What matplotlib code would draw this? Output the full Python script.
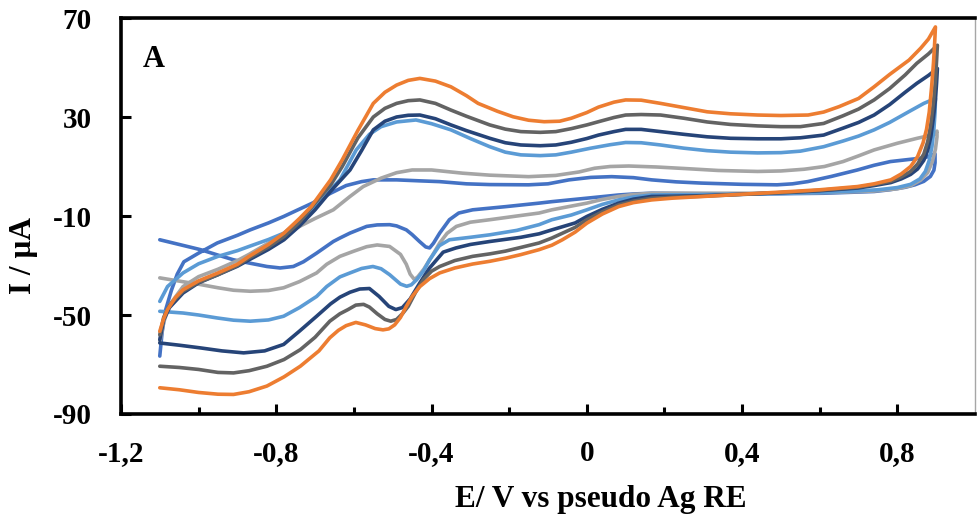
import matplotlib
matplotlib.use("Agg")
import matplotlib.pyplot as plt
from matplotlib.ticker import FixedLocator

plt.rcParams["font.family"] = ["Liberation Serif", "DejaVu Serif"]
plt.rcParams["font.weight"] = "bold"

# Cyclic voltammograms, potential (V) and current (uA): forward scan then reverse scan
blue_E = [-1.10, -1.094, -1.085, -1.07, -1.055, -1.038, -1.00, -0.952, -0.90, -0.867, -0.82, -0.781, -0.74,
          -0.707, -0.66, -0.62, -0.58, -0.55, -0.49, -0.43, -0.38, -0.31, -0.25, -0.15, -0.10, -0.046, 0.01,
          0.064, 0.12, 0.167, 0.23, 0.295, 0.40, 0.49, 0.53, 0.569, 0.63, 0.697, 0.74, 0.782, 0.833, 0.87, 0.897,
          0.897, 0.894, 0.885, 0.868, 0.845, 0.82, 0.78, 0.74, 0.61, 0.44, 0.30, 0.167, 0.12, 0.082, 0.00, -0.09,
          -0.123, -0.208, -0.294, -0.33, -0.354, -0.379, -0.395, -0.405, -0.415, -0.431, -0.45, -0.465, -0.49,
          -0.508, -0.54, -0.567, -0.61, -0.636, -0.653, -0.696, -0.73, -0.756, -0.79, -0.824, -0.87, -0.91, -0.95,
          -0.995, -1.05, -1.10]
blue_I = [-66.6, -57, -48, -40, -33.5, -28.5, -25, -20.9, -17.8, -15.6, -12.8, -10.2, -7.2,
          -4.8, -0.8, 2.3, 3.9, 4.6, 4.6, 4.2, 3.9, 3.0, 2.7, 2.6, 3.0, 4.6, 5.6,
          5.9, 5.5, 4.6, 3.8, 3.3, 2.8, 2.6, 3.0, 3.9, 6.0, 8.6, 10.5, 12.0, 12.9, 13.5, 15.1,
          11.5, 8.5, 6.0, 4.0, 2.6, 1.6, 0.6, -0.1, -0.8, -1.1, -1.0, -0.8, -1.1, -1.5, -2.8, -4.2,
          -4.8, -6.2, -7.5, -8.8, -11.5, -16.9, -21, -22.9, -22.5, -20.3, -17.5, -15.6, -14,
          -13.5, -13.6, -14.2, -16.9, -18.9, -20.3, -25, -28.5, -30.4, -31, -30.4, -29, -27.7, -25.8,
          -23.6, -21.5, -19.6]

lgray_E = [-1.10, -1.09, -1.075, -1.04, -1.00, -0.95, -0.90, -0.87, -0.82, -0.78, -0.74, -0.70, -0.653,
           -0.61, -0.576, -0.53, -0.49, -0.45, -0.40, -0.32, -0.25, -0.15, -0.08, -0.02, 0.02, 0.06, 0.108,
           0.18, 0.25, 0.338, 0.44, 0.50, 0.56, 0.612, 0.66, 0.70, 0.74, 0.80, 0.851, 0.88, 0.898, 0.902,
           0.902, 0.898, 0.89, 0.878, 0.86, 0.835, 0.80, 0.74, 0.65, 0.55, 0.45, 0.30, 0.167, 0.12, 0.082, 0.04,
           0.00, -0.05, -0.09, -0.123, -0.18, -0.25, -0.30, -0.336, -0.36, -0.379, -0.40, -0.42, -0.435, -0.444,
           -0.455, -0.465, -0.48, -0.508, -0.54, -0.567, -0.60, -0.636, -0.67, -0.696, -0.74, -0.781, -0.82,
           -0.867, -0.91, -0.95, -0.995, -1.05, -1.10]
lgray_I = [-61, -53, -46, -38.5, -34.5, -31.5, -28, -25.5, -20.9, -17.6, -14.2, -11, -7.5,
           -2.1, 1.9, 5.3, 7.5, 8.6, 8.6, 7.3, 6.5, 5.9, 6.4, 7.8, 9.3, 10, 10.2,
           9.8, 9.2, 8.4, 8.0, 8.2, 8.9, 10, 12, 14.3, 16.7, 19.4, 21.4, 22.4, 23.4, 24.3,
           22, 17, 12, 7.5, 4.5, 2.3, 1.0, 0.1, -0.4, -0.7, -0.8, -0.8, -0.8, -1.3, -2.1, -3.3,
           -4.8, -6.3, -7.5, -8.8, -10, -11.5, -12.5, -14.2, -17, -20.9, -26.5, -31.5, -34.5, -35.7,
           -33.5, -29.5, -25.5, -22.3, -21.7, -22.4, -24.2, -26.3, -29.5, -33, -36.5, -39, -40.1,
           -40.4, -40, -39, -37.7, -36.3, -35]

lblue_E = [-1.10, -1.08, -1.04, -1.00, -0.95, -0.90, -0.87, -0.82, -0.78, -0.74, -0.71, -0.67, -0.636,
           -0.594, -0.56, -0.53, -0.49, -0.44, -0.40, -0.35, -0.30, -0.25, -0.21, -0.17, -0.12, -0.08, -0.04,
           0.01, 0.06, 0.10, 0.14, 0.19, 0.25, 0.31, 0.37, 0.44, 0.50, 0.55, 0.61, 0.66, 0.70, 0.74, 0.78, 0.83,
           0.868, 0.898,
           0.897, 0.894, 0.889, 0.882, 0.872, 0.858, 0.834, 0.80, 0.75, 0.68, 0.60, 0.50, 0.40, 0.30, 0.167,
           0.12, 0.082, 0.04, 0.00, -0.04, -0.09, -0.123, -0.18, -0.25, -0.30, -0.354, -0.38, -0.405, -0.42,
           -0.438, -0.452, -0.464, -0.48, -0.508, -0.53, -0.551, -0.58, -0.61, -0.636, -0.67, -0.696, -0.74,
           -0.781, -0.82, -0.867, -0.91, -0.952, -1.00, -1.04, -1.10]
lblue_I = [-44.5, -38.5, -33, -29.3, -26.3, -24, -22.3, -19.5, -16.9, -12, -7.5, -1, 4.6,
           16.7, 23, 26.1, 28, 28.8, 27.3, 24.8, 21.3, 18, 15.8, 14.7, 14.4, 14.7, 15.8,
           17.4, 18.8, 19.7, 19.6, 18.7, 17.4, 16.4, 15.8, 15.5, 15.6, 16.2, 18, 20.3, 22.3, 24.8, 27.8, 32.2,
           35.5, 37.5,
           32, 25, 18, 12.5, 8, 5, 2.8, 1.5, 0.6, 0, -0.5, -0.9, -1.2, -1.3, -1.5,
           -2.3, -3.5, -5.3, -7.5, -9.6, -11.5, -13.5, -15.8, -17.6, -18.6, -19.6, -22, -27.7, -32,
           -35.7, -37.8, -38.4, -37.5, -33.7, -31.3, -30.4, -31.2, -33, -34.6, -38.5, -42.5, -47,
           -50.5, -52, -52.5, -52.1, -51.2, -50, -49.2, -48.5]

navy_E = [-1.10, -1.09, -1.075, -1.04, -1.00, -0.95, -0.90, -0.87, -0.82, -0.78, -0.74, -0.70, -0.66,
          -0.61, -0.58, -0.55, -0.52, -0.49, -0.46, -0.43, -0.39, -0.35, -0.31, -0.25, -0.21, -0.17, -0.12,
          -0.08, -0.04, 0.00, 0.03, 0.07, 0.10, 0.14, 0.19, 0.25, 0.31, 0.37, 0.44, 0.50, 0.55, 0.61, 0.66,
          0.70, 0.74, 0.78, 0.82, 0.85, 0.88, 0.903,
          0.901, 0.898, 0.893, 0.886, 0.878, 0.868, 0.852, 0.834, 0.81, 0.783, 0.74, 0.697, 0.60, 0.53, 0.40,
          0.30, 0.22, 0.167, 0.12, 0.082, 0.04, 0.00, -0.03, -0.09, -0.123, -0.17, -0.25, -0.30, -0.337, -0.37,
          -0.405, -0.43, -0.455, -0.475, -0.492, -0.51, -0.535, -0.56, -0.585, -0.61, -0.636, -0.66, -0.696,
          -0.74, -0.781, -0.83, -0.884, -0.94, -0.995, -1.05, -1.10]
navy_I = [-60, -52, -47, -41.1, -37, -33.7, -30.3, -27.7, -23.5, -19.6, -14, -7.5, 0,
          8.6, 16.5, 24.8, 28.3, 30, 30.7, 30.8, 29.3, 26.8, 24.5, 21.4, 19.6, 18.7, 18.4,
          18.7, 19.8, 21.3, 22.7, 24.1, 25, 25, 24.1, 23, 22, 21.4, 21.2, 21.2, 21.6, 22.7, 25.5,
          27.8, 30.8, 35, 40, 43.6, 46.8, 49.6,
          44, 37, 30, 22, 16.5, 12.5, 9, 6.8, 5, 3.5, 2.3, 1.3, 0.2, -0.4, -1.2,
          -1.8, -2.0, -2.1, -3.2, -4.8, -7.3, -10.2, -12.8, -15.6, -17.2, -18.6, -20.3, -21.5, -22.9, -24.6,
          -31, -37, -43.5, -47, -47.8, -46.5, -42.5, -39.3, -39.5, -40.8, -42.8, -45.5, -50.5,
          -56.5, -61.9, -64.5, -65.3, -64.5, -63.3, -62.2, -61.3]

dgray_E = [-1.10, -1.09, -1.075, -1.04, -1.00, -0.95, -0.90, -0.87, -0.82, -0.78, -0.74, -0.70, -0.66,
           -0.63, -0.59, -0.55, -0.52, -0.49, -0.46, -0.43, -0.39, -0.35, -0.31, -0.25, -0.21, -0.17, -0.12,
           -0.08, -0.04, 0.00, 0.03, 0.07, 0.10, 0.14, 0.19, 0.25, 0.31, 0.37, 0.44, 0.50, 0.55, 0.61, 0.66,
           0.70, 0.74, 0.78, 0.82, 0.85, 0.88, 0.903,
           0.901, 0.898, 0.893, 0.886, 0.878, 0.868, 0.852, 0.834, 0.81, 0.783, 0.74, 0.697, 0.60, 0.53, 0.40,
           0.30, 0.22, 0.167, 0.12, 0.082, 0.04, 0.00, -0.03, -0.09, -0.123, -0.17, -0.21, -0.25, -0.294, -0.34,
           -0.379, -0.40, -0.42, -0.44, -0.46, -0.475, -0.49, -0.505, -0.52, -0.54, -0.56, -0.575, -0.595,
           -0.615, -0.636, -0.662, -0.70, -0.738, -0.78, -0.824, -0.87, -0.91, -0.95, -1.00, -1.05, -1.10]
dgray_I = [-58, -51, -46, -40.4, -36.8, -33.7, -30, -27, -22.5, -18.3, -12.5, -4.8, 2.5,
           10, 21.5, 30, 33.5, 35.5, 36.6, 36.9, 35.5, 32.8, 30.3, 26.8, 25.1, 24.1, 23.8,
           24.1, 25.3, 26.8, 28.1, 29.8, 30.8, 31, 30.8, 29.5, 28, 27, 26.4, 26.1, 26.1, 27.4, 30.5,
           33.2, 36.9, 41.5, 47, 51.7, 55.5, 59,
           53, 45, 36, 27, 20, 15, 11, 8, 5.8, 4, 2.7, 1.6, 0.4, -0.3, -1.3,
           -2.0, -2.4, -2.8, -4.0, -5.5, -8.3, -11.5, -14.6, -18.9, -20.9, -22.7, -24.2, -25.3, -26.3, -28,
           -30.4, -32.3, -35.5, -40.5, -46.5, -49.5, -51.8, -52.5, -51.8, -49.5, -46.8, -45.7, -46,
           -47.8, -49.5, -52.5, -59, -64, -68, -70.7, -72.5, -73.4, -73.2, -72, -71.2, -70.7]

orange_E = [-1.10, -1.09, -1.08, -1.06, -1.04, -1.00, -0.95, -0.90, -0.87, -0.82, -0.78, -0.74, -0.71,
            -0.66, -0.63, -0.59, -0.55, -0.52, -0.49, -0.46, -0.43, -0.39, -0.35, -0.31, -0.28, -0.23, -0.19,
            -0.15, -0.11, -0.07, -0.04, 0.00, 0.03, 0.07, 0.10, 0.14, 0.19, 0.25, 0.31, 0.37, 0.44, 0.50, 0.57,
            0.61, 0.65, 0.70, 0.74, 0.78, 0.83, 0.86, 0.88, 0.898,
            0.896, 0.893, 0.888, 0.882, 0.875, 0.866, 0.852, 0.834, 0.81, 0.783, 0.74, 0.697, 0.60, 0.526, 0.40,
            0.30, 0.22, 0.167, 0.12, 0.082, 0.04, 0.00, -0.03, -0.063, -0.09, -0.123, -0.17, -0.208, -0.25,
            -0.294, -0.34, -0.379, -0.405, -0.43, -0.45, -0.465, -0.48, -0.495, -0.51, -0.525, -0.545, -0.57,
            -0.595, -0.62, -0.64, -0.662, -0.69, -0.738, -0.78, -0.824, -0.87, -0.91, -0.95, -1.00, -1.05, -1.10]
orange_I = [-56.6, -51.5, -47.8, -43, -39.8, -36.2, -33, -29.5, -26.3, -21.5, -16.9, -11, -6.2,
            4.6, 12.7, 24.5, 35.5, 40, 42.9, 44.8, 45.6, 44.5, 42.2, 38.6, 35.5, 32.3, 30.1,
            28.7, 28.1, 28.3, 29.5, 31.8, 34.0, 36.0, 36.9, 36.8, 35.5, 33.8, 32.1, 31.3, 30.8, 30.6, 30.8,
            32, 34.2, 37.5, 42.2, 47.2, 53, 57.8, 61.5, 66.4,
            60, 52, 42, 32, 25, 19.5, 14, 10, 7, 4.6, 3, 1.9, 0.6, -0.1, -1.2,
            -2.1, -2.8, -3.5, -4.6, -6.2, -9.2, -12.9, -16.5, -19.6, -21.8, -23.6, -25.6, -27, -28.3,
            -29.4, -31, -33, -35.3, -38.5, -42.5, -46.5, -51, -54, -55.6, -56, -55.5, -54,
            -53, -54.3, -56.2, -59.2, -64.5, -70.7, -75, -78.7, -81, -82.1, -82, -81.3, -80.2, -79.4]

x_ticks = [-1.2, -0.8, -0.4, 0.0, 0.4, 0.8]
x_minor = [-1.0, -0.6, -0.2, 0.2, 0.6]
x_labels = ["-1,2", "-0,8", "-0,4", "0", "0,4", "0,8"]
y_ticks = [-90, -50, -10, 30, 70]
y_labels = ["-90", "-50", "-10", "30", "70"]

series = [
    (blue_E, blue_I, "#4472C4"),
    (lgray_E, lgray_I, "#A5A5A5"),
    (lblue_E, lblue_I, "#5B9BD5"),
    (navy_E, navy_I, "#264478"),
    (dgray_E, dgray_I, "#636363"),
    (orange_E, orange_I, "#ED7D31"),
]

fig = plt.figure(figsize=(9.77, 5.22), dpi=100)
ax = fig.add_axes([0.1238, 0.2069, 0.8742, 0.7586])

for e, i, c in series:
    ax.plot(e, i, color=c, lw=2.6, solid_joinstyle="round", solid_capstyle="round")

ax.set_xlim(-1.2, 1.0)
ax.set_ylim(-90, 70)

ax.xaxis.set_major_locator(FixedLocator(x_ticks))
ax.xaxis.set_minor_locator(FixedLocator(x_minor))
ax.yaxis.set_major_locator(FixedLocator(y_ticks))
ax.set_xticklabels(x_labels)
ax.set_yticklabels(y_labels)

ax.tick_params(axis="x", which="major", direction="in", length=7, width=2.2, pad=19, labelsize=21)
ax.tick_params(axis="x", which="minor", direction="in", length=5, width=2.2)
ax.tick_params(axis="y", which="major", direction="in", length=7, width=2.2, pad=21, labelsize=21)
ax.tick_params(right=False, top=False)

for side in ["left", "bottom", "top"]:
    ax.spines[side].set_linewidth(2.6)
    ax.spines[side].set_color("black")
ax.spines["right"].set_linewidth(1.0)
ax.spines["right"].set_color("#A6A6A6")

for lab in ax.get_xticklabels() + ax.get_yticklabels():
    lab.set_fontweight("bold")

fig.text(601 / 977, 1 - 507 / 522, "E/ V vs pseudo Ag RE", ha="center", va="baseline",
         fontsize=22.5, fontweight="bold")
fig.text(23 / 977, 1 - 256 / 522, "I / µA", ha="center", va="center", rotation=90,
         fontsize=22.5, fontweight="bold")
fig.text(143 / 977, 1 - 67 / 522, "A", ha="left", va="baseline", fontsize=22, fontweight="bold")

fig.savefig("out.png", dpi=100)
